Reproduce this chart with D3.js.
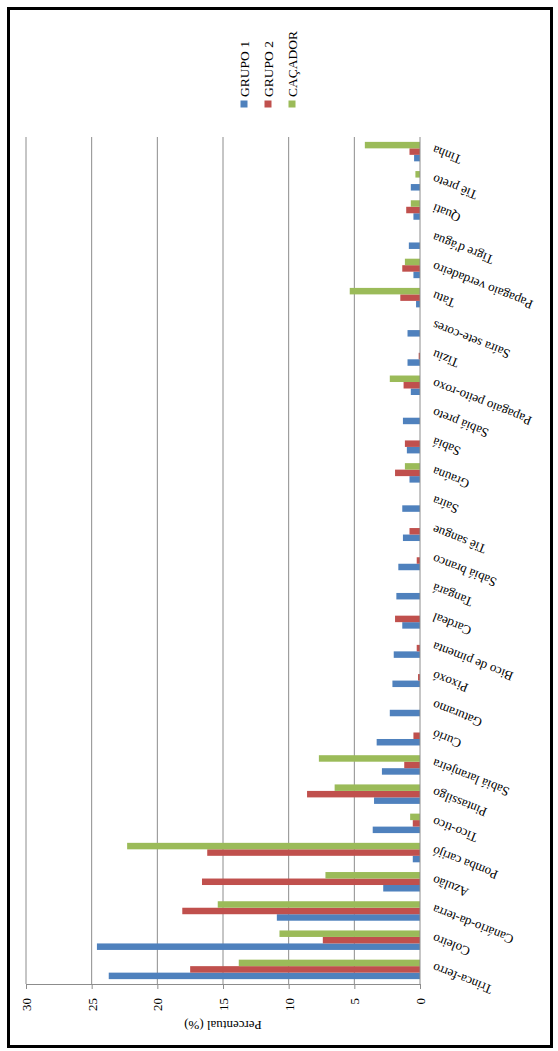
<!DOCTYPE html>
<html>
<head>
<meta charset="utf-8">
<script src="https://cdn.jsdelivr.net/npm/d3@7/dist/d3.min.js"></script>
<style>
  html, body { margin: 0; padding: 0; background: #fff; }
  svg { display: block; }
  text { font-family: "Liberation Serif", "Times New Roman", serif; fill: #000; }
</style>
</head>
<body>
<svg id="chart" width="558" height="1051"></svg>
<script>
// Species (category axis, first one drawn at the bottom)
const categories = [
  "Trinca-ferro", "Coleiro", "Canário-da-terra", "Azulão", "Pomba carijó",
  "Tico-tico", "Pintassilgo", "Sabiá laranjeira", "Curió", "Gaturamo",
  "Pixoxó", "Bico de pimenta", "Cardeal", "Tangará", "Sabiá branco",
  "Tiê sangue", "Saíra", "Graúna", "Sabiá", "Sabiá preto",
  "Papagaio peito-roxo", "Tiziu", "Saíra sete-cores", "Tatu",
  "Papagaio verdadeiro", "Tigre d'água", "Quati", "Tiê preto", "Tinha"
];

// Percentages per group
const grupo1 = [23.7, 24.6, 10.9, 2.8, 0.55, 3.6, 3.5, 2.9, 3.3, 2.3,
                2.1, 2.0, 1.35, 1.8, 1.65, 1.3, 1.35, 0.8, 1.0, 1.3,
                0.7, 0.95, 0.95, 0.3, 0.5, 0.85, 0.5, 0.7, 0.45];
const grupo2 = [17.5, 7.4, 18.1, 16.6, 16.2, 0.55, 8.6, 1.2, 0.5, 0,
                0.15, 0.25, 1.9, 0, 0.25, 0.8, 0, 1.9, 1.15, 0,
                1.25, 0.1, 0, 1.5, 1.35, 0, 1.05, 0, 0.8];
const cacador = [13.8, 10.7, 15.4, 7.2, 22.3, 0.75, 6.5, 7.7, 0, 0,
                 0, 0, 0, 0, 0, 0, 0, 1.15, 0, 0,
                 2.3, 0, 0, 5.35, 1.15, 0, 0.7, 0.35, 4.2];

const seriesNames = ["GRUPO 1", "GRUPO 2", "CAÇADOR"];
const seriesColors = ["#4F81BD", "#C0504D", "#9BBB59"];
const valueTicks = [0, 5, 10, 15, 20, 25, 30];
const axisTitle = "Percentual (%)";

const seriesValues = [grupo1, grupo2, cacador];

const svg = d3.select("#chart");

// Outer frame
svg.append("rect")
  .attr("x", 8.5).attr("y", 8.5)
  .attr("width", 543).attr("height", 1038)
  .attr("fill", "#fff")
  .attr("stroke", "#000")
  .attr("stroke-width", 3);

// Plot geometry: values grow leftwards from the category axis
const plot = { left: 26, right: 420, top: 137, bottom: 984 };

const x = d3.scaleLinear().domain([0, 30]).range([plot.right, plot.left]);
const y = d3.scaleBand().domain(categories).range([plot.bottom, plot.top]);
// within each category: CAÇADOR on top, GRUPO 1 at the bottom
const ySub = d3.scaleBand()
  .domain(seriesNames.slice().reverse())
  .range([0, y.bandwidth()])
  .paddingInner(0)
  .paddingOuter(0.75);

const gridColor = "#8c8c8c";

// Vertical gridlines
svg.append("g")
  .selectAll("line")
  .data(valueTicks.filter(v => v > 0))
  .join("line")
  .attr("x1", d => x(d)).attr("x2", d => x(d))
  .attr("y1", plot.top).attr("y2", plot.bottom)
  .attr("stroke", gridColor)
  .attr("stroke-width", 1);

// Bars
const rows = categories.map((c, i) => ({ c, vals: seriesValues.map(s => s[i]) }));
const groups = svg.append("g").selectAll("g")
  .data(rows)
  .join("g")
  .attr("transform", d => `translate(0,${y(d.c)})`);

groups.selectAll("rect")
  .data(d => d.vals.map((v, k) => ({ v, k })))
  .join("rect")
  .attr("x", d => x(d.v))
  .attr("y", d => ySub(seriesNames[d.k]))
  .attr("width", d => x(0) - x(d.v))
  .attr("height", ySub.bandwidth())
  .attr("fill", d => seriesColors[d.k]);

// Value axis along the bottom
const xAxis = d3.axisBottom(x).tickValues(valueTicks).tickSize(5).tickPadding(0);
const gx = svg.append("g")
  .attr("transform", `translate(0,${plot.bottom})`)
  .call(xAxis);
gx.select(".domain").attr("stroke", gridColor);
gx.selectAll(".tick line").attr("stroke", gridColor);
gx.selectAll(".tick text")
  .attr("font-size", 13)
  .attr("font-family", "Liberation Serif, Times New Roman, serif")
  .attr("fill", "#000")
  .attr("text-anchor", "end")
  .attr("dy", "0.35em")
  .attr("y", 0)
  .attr("transform", "translate(0,14) rotate(-90)");

// Value axis title (upside down)
svg.append("text")
  .attr("transform", `translate(${(plot.left + plot.right) / 2},1026) rotate(180)`)
  .attr("text-anchor", "middle")
  .attr("dy", "0.35em")
  .attr("font-size", 13)
  .text(axisTitle);

// Category axis line
svg.append("line")
  .attr("x1", plot.right).attr("x2", plot.right)
  .attr("y1", plot.top).attr("y2", plot.bottom)
  .attr("stroke", gridColor)
  .attr("stroke-width", 1);

// Category labels, slanted
svg.append("g")
  .selectAll("text")
  .data(categories)
  .join("text")
  .attr("transform", d => `translate(433,${y(d) + y.bandwidth() / 2 - 2}) rotate(201.5)`)
  .attr("text-anchor", "end")
  .attr("dy", "0.35em")
  .attr("font-size", 13)
  .text(d => d);

// Legend (vertical text, items left to right)
const legend = svg.append("g")
  .selectAll("g")
  .data(seriesNames)
  .join("g")
  .attr("transform", (d, i) => `translate(${244 + i * 24},104)`);
legend.append("rect")
  .attr("x", -3.5).attr("y", -3.5)
  .attr("width", 7).attr("height", 7)
  .attr("fill", (d, i) => seriesColors[i]);
legend.append("text")
  .attr("transform", "translate(0,-7) rotate(-90)")
  .attr("dy", "0.35em")
  .attr("font-size", 13.5)
  .text(d => d);
</script>
</body>
</html>
